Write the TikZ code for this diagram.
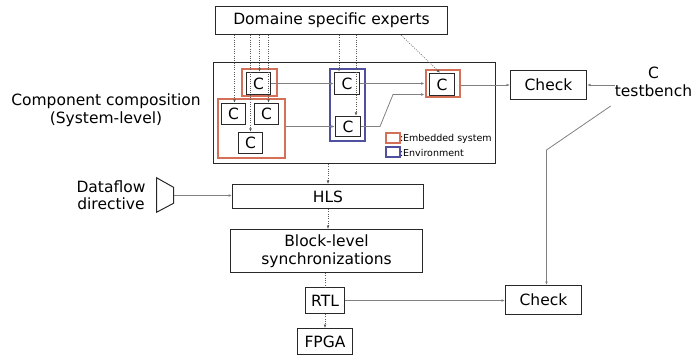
\documentclass[tikz,border=0pt]{standalone}
\usepackage{fontspec}
\setmainfont{DejaVu Sans}
\usetikzlibrary{arrows.meta}
\definecolor{embred}{RGB}{212,112,88}
\definecolor{envblue}{RGB}{80,80,160}
\definecolor{boxgray}{RGB}{40,40,40}
\begin{document}
\begin{tikzpicture}[x=1pt,y=-1pt,
  box/.style={draw=boxgray,line width=1pt,inner sep=0pt,font=\fontsize{15.5}{18}\selectfont,align=center},
  cbox/.style={draw=boxgray,line width=1.4pt,inner sep=0pt,minimum width=24,minimum height=21,font=\fontsize{15.5}{18}\selectfont},
  redbox/.style={draw=embred,line width=2pt,inner sep=0pt},
  bluebox/.style={draw=envblue,line width=2pt,inner sep=0pt},
  lbl/.style={inner sep=0pt,align=center,font=\fontsize{15.5}{17.5}\selectfont},
  dotarrow/.style={draw=black!65,dash pattern=on 1pt off 1.3pt,line width=0.6pt,-{Latex[length=3.5pt,width=2.8pt]}},
  dotline/.style={draw=black!65,dash pattern=on 1pt off 1.3pt,line width=0.6pt},
  solarrow/.style={draw=black!50,line width=0.8pt,-{Latex[length=3.5pt,width=2.8pt]}},
  solline/.style={draw=black!50,line width=0.8pt}]
\useasboundingbox (0,0) rectangle (698,358);

% top
\node[box,minimum width=232,minimum height=28] (dse) at (331.5,20.5) {Domaine specific experts};
\node[draw=boxgray,line width=1pt,minimum width=282,minimum height=101,inner sep=0pt] (big) at (354.5,113) {};
\node[lbl] (comp) at (106,110) {Component composition\\(System-level)};

% embedded systems and components
\node[redbox,minimum width=35,minimum height=27] (r1) at (259,83) {};
\node[cbox,minimum height=22] (c1) at (258.5,83.5) {C};
\node[redbox,minimum width=67,minimum height=59] (r2) at (251,129) {};
\node[cbox] (c2) at (233.5,114) {C};
\node[cbox] (c3) at (266.5,114) {C};
\node[cbox] (c4) at (250.5,143) {C};
\node[bluebox,minimum width=35,minimum height=72] (b1) at (347,105.5) {};
\node[cbox,minimum width=25,minimum height=22] (c5) at (347,83.5) {C};
\node[cbox,minimum width=25,minimum height=20] (c6) at (348,126.5) {C};
\node[redbox,minimum width=34,minimum height=27] (r3) at (442.5,84) {};
\node[cbox,minimum width=25,minimum height=22] (c7) at (442,84.5) {C};

% legend
\node[redbox,minimum width=14,minimum height=10] (lg1) at (392.5,138.5) {};
\node[anchor=west,inner sep=0pt,font=\fontsize{9.5}{11}\selectfont] (lt1) at (399.8,138.5) {:Embedded system};
\node[bluebox,minimum width=14,minimum height=10] (lg2) at (392.5,152.5) {};
\node[anchor=west,inner sep=0pt,font=\fontsize{9.5}{11}\selectfont] (lt2) at (399.8,152.5) {:Environment};

% checks and testbench
\node[box,minimum width=76,minimum height=29] (check1) at (548.5,85) {Check};
\node[lbl] (tb) at (653.5,82) {C\\testbench};
\node[box,minimum width=76,minimum height=29] (check2) at (543.5,300) {Check};

% flow
\node[lbl] (df) at (111,195) {Dataflow\\directive};
\draw[draw=boxgray,line width=1pt] (156.5,177.7) -- (173.5,187.3) -- (173.5,203.3) -- (156.5,212.3) -- cycle;
\coordinate (trapout) at (173.5,195.5);
\node[box,minimum width=191,minimum height=24] (hls) at (328,196.5) {HLS};
\node[box,minimum width=192,minimum height=43] (blk) at (326.5,251) {Block-level\\synchronizations};
\node[box,minimum width=39,minimum height=26] (rtl) at (325,300.5) {RTL};
\node[box,minimum width=55,minimum height=26] (fpga) at (325,341.5) {FPGA};

% dotted expert arrows
\draw[dotarrow] ([xshift=1]c2.north |- dse.south) -- ([xshift=1]c2.north);
\draw[dotarrow] ([xshift=0]c4.north |- dse.south) -- ([xshift=0]c4.north);
\draw[dotarrow] ([xshift=1]c1.north |- dse.south) -- ([xshift=1]c1.north);
\draw[dotarrow] ([xshift=2]c3.north |- dse.south) -- ([xshift=2]c3.north);
\draw[dotarrow] ([xshift=-8]c5.north |- dse.south) -- ([xshift=-8]c5.north);
\draw[dotarrow] ([xshift=8]c6.north |- dse.south) -- ([xshift=8]c6.north);
\draw[dotarrow] ([xshift=69.5]dse.south) -- ([xshift=-2]c7.north);

% solid connections in composition
\draw[solarrow] (c1.east) -- (c1.east -| c5.west);
\draw[solarrow] (r2.east |- c6.west) -- (c6.west);
\draw[solarrow] (c5.east) -- (c5.east -| r3.west);
\coordinate (k1) at (380,126.5);
\coordinate (k2) at (393,94.5);
\draw[solarrow] (c6.east) -- (k1) -- (k2) -- (k2 -| r3.west);
\draw[solarrow] (r3.east |- check1.west) -- (check1.west);
\draw[solarrow] (tb.west |- check1.east) -- (check1.east);
\coordinate (tbs) at (610.7,106);
\coordinate (tbk) at (546.5,150);
\draw[solarrow] (tbs) -- (tbk) -- (tbk |- check2.north);

% flow connections
\draw[dotarrow] (hls.north |- big.south) -- (hls.north);
\draw[solarrow] (trapout) -- (hls.west |- trapout);
\draw[dotarrow] (hls.south) -- (hls.south |- blk.north);
\draw[dotline] (rtl.north |- blk.south) -- (rtl.north);
\draw[dotarrow] (rtl.south) -- (rtl.south |- fpga.north);
\draw[solarrow] (rtl.east) -- (rtl.east -| check2.west);
\end{tikzpicture}
\end{document}
